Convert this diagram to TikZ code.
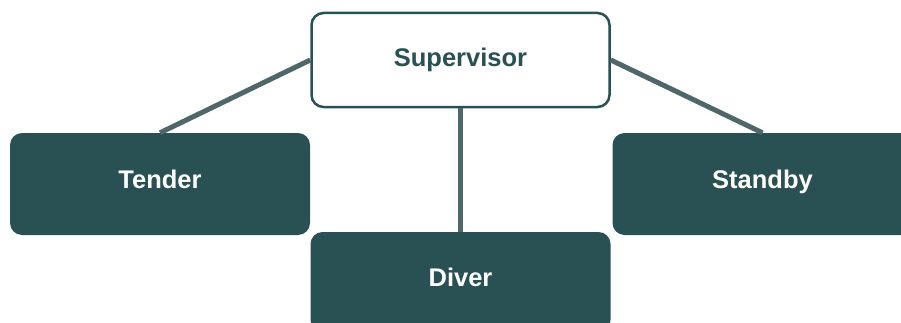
\documentclass[tikz,border=0pt]{standalone}
\usepackage{fontspec}
\setmainfont{Liberation Sans}
\definecolor{crewteal}{HTML}{295052}
\definecolor{linkgray}{HTML}{4F666A}
\tikzset{
	topbox/.style={
		rectangle,
		rounded corners=12pt,
		fill=white,
		draw=crewteal, line width=2.5pt,
		text=crewteal,
		font=\fontsize{25.5}{30}\selectfont\bfseries,
		minimum width=298pt,
		minimum height=94pt,
		text height=18pt, text depth=5pt},
	crewbox/.style={
		rectangle,
		rounded corners=12pt,
		fill=crewteal,
		draw=none,
		text=white,
		font=\fontsize{25.5}{30}\selectfont\bfseries,
		minimum width=300pt,
		minimum height=102pt,
		text height=18pt, text depth=9pt},
	link/.style={
		draw=linkgray, line width=5pt}
}
\begin{document}
\begin{tikzpicture}
[x=1pt, y=1pt, node distance=124pt]
\useasboundingbox (0,0) rectangle (901,322);
\node[topbox] (supervisor) at (460.5,262) {Supervisor};
\node[crewbox, below of=supervisor, xshift=-300.5pt] (tender) {Tender};
\node[crewbox, below of=supervisor, xshift=302pt] (standby) {Standby};
\node[crewbox, below of=supervisor, yshift=-98pt, minimum height=100pt] (diver) {Diver};
\draw[link] (supervisor.west) -- (tender.north);
\draw[link] (supervisor.east) -- (standby.north);
\draw[link] (supervisor.south) -- (diver.north);
\end{tikzpicture}
\end{document}
